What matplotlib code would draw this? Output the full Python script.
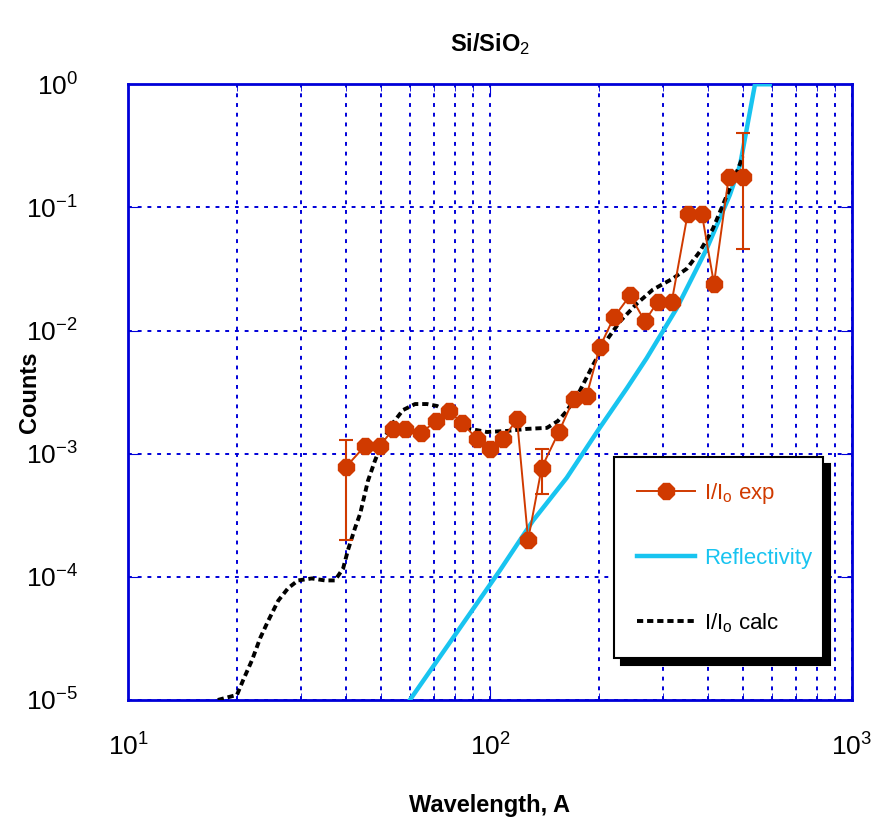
import numpy as np
import matplotlib
matplotlib.use("Agg")
import matplotlib.pyplot as plt
from matplotlib.ticker import NullLocator, LogFormatterSciNotation

plt.rcParams['font.family'] = ['Liberation Sans', 'DejaVu Sans']
plt.rcParams['mathtext.fontset'] = 'custom'
plt.rcParams['mathtext.rm'] = 'Liberation Sans'
plt.rcParams['mathtext.bf'] = 'Liberation Sans:bold'
plt.rcParams['mathtext.default'] = 'rm'
plt.rcParams['axes.unicode_minus'] = False

# measured I/Io (exp)
exp_wl = [40.0, 45.2, 49.7, 54.0, 58.2, 64.4, 71.0, 77.0, 83.7, 92.0, 100.0, 108.6,
          118.8, 127.5, 139.0, 155.0, 170.5, 185.0, 201.0, 220.0, 244.0, 268.0,
          291.0, 318.0, 352.0, 385.0, 416.0, 457.0, 500.0]
exp_val = [7.8e-4, 1.16e-3, 1.16e-3, 1.58e-3, 1.58e-3, 1.47e-3, 1.84e-3, 2.22e-3,
           1.78e-3, 1.32e-3, 1.1e-3, 1.32e-3, 1.9e-3, 2.0e-4, 7.7e-4, 1.5e-3,
           2.8e-3, 2.96e-3, 7.3e-3, 1.28e-2, 1.93e-2, 1.19e-2, 1.72e-2, 1.72e-2,
           8.9e-2, 8.9e-2, 2.4e-2, 0.177, 0.177]

# error bars (only three points carry them)
err_wl = [40.0, 139.0, 500.0]
err_val = [7.8e-4, 7.7e-4, 0.177]
err_lo = [2.0e-4, 4.7e-4, 0.046]
err_hi = [1.3e-3, 1.1e-3, 0.40]

# reflectivity
refl_wl = [60.1, 106.6, 131.5, 163.0, 201.0, 239.0, 271.0, 328.0, 397.0, 460.0, 491.0, 540.0, 593.0]
refl_val = [1e-5, 1.13e-4, 2.86e-4, 6.37e-4, 1.62e-3, 3.4e-3, 5.96e-3, 1.51e-2, 4.6e-2,
            0.126, 0.221, 1.0, 1.0]

# calculated I/Io
calc_wl = [17.7, 20.0, 20.8, 22.0, 23.2, 24.4, 26.0, 27.7, 29.5, 32.2, 35.0, 37.3, 39.3,
           40.5, 42.4, 43.8, 46.0, 48.1, 50.6, 53.9, 57.5, 62.1, 67.0, 71.4, 76.1, 81.1,
           88.1, 98.1, 111.5, 126.6, 143.7, 154.0, 163.0, 177.0, 193.0, 211.0, 229.0,
           255.0, 282.0, 320.0, 350.0, 380.0, 413.0, 452.0, 481.0, 500.0]
calc_val = [1.0e-5, 1.1e-5, 1.45e-5, 2.1e-5, 3.2e-5, 4.4e-5, 6.4e-5, 8.1e-5, 9.35e-5,
            9.7e-5, 9.35e-5, 9.35e-5, 1.17e-4, 1.64e-4, 2.5e-4, 3.26e-4, 6.0e-4, 8.75e-4,
            1.27e-3, 1.77e-3, 2.26e-3, 2.53e-3, 2.53e-3, 2.44e-3, 2.22e-3, 1.84e-3, 1.59e-3,
            1.5e-3, 1.53e-3, 1.59e-3, 1.62e-3, 1.84e-3, 2.22e-3, 3.22e-3, 5.3e-3, 8.5e-3,
            1.19e-2, 1.66e-2, 2.15e-2, 2.64e-2, 3.18e-2, 4.37e-2, 6.7e-2, 0.126, 0.194, 0.26]

red = '#D03A00'
cyan = '#18C4F0'
blue = '#0000D8'

fig = plt.figure(figsize=(8.71, 8.18), dpi=100)
ax = fig.add_axes([0.147, 0.1443, 0.831, 0.7527])

ax.plot(refl_wl, refl_val, color=cyan, lw=3.2, label='Reflectivity', zorder=3)
ax.plot(calc_wl, calc_val, color='black', lw=2.8, ls=(0, (1.6, 1.0)),
        label='I/I$_\\mathrm{o}$ calc', zorder=4)

yerr = [np.array(err_val) - np.array(err_lo), np.array(err_hi) - np.array(err_val)]
ax.errorbar(err_wl, err_val, yerr=yerr, fmt='none', ecolor=red, elinewidth=1.5,
            capsize=5, capthick=1.5, zorder=5)
ax.plot(exp_wl, exp_val, color=red, lw=1.4, marker='8', ms=12, mfc=red, mec=red,
        label='I/I$_\\mathrm{o}$ exp', zorder=6)

ax.set_xscale('log')
ax.set_yscale('log')
ax.set_xlim(10, 1000)
ax.set_ylim(1e-5, 1)
ax.yaxis.set_minor_locator(NullLocator())
ax.xaxis.set_major_formatter(LogFormatterSciNotation())
ax.yaxis.set_major_formatter(LogFormatterSciNotation())

ax.grid(True, which='major', axis='both', color=blue, ls=(0, (2, 3)), lw=1.4)
ax.grid(True, which='minor', axis='x', color=blue, ls=(0, (2, 3)), lw=1.4)
for s in ax.spines.values():
    s.set_color(blue)
    s.set_linewidth(2)
ax.tick_params(which='both', direction='in', top=True, right=True, color=blue,
               labelsize=19, labelcolor='black')
ax.tick_params(axis='x', which='major', pad=24, length=8)
ax.tick_params(axis='y', which='major', pad=36, length=8)
ax.tick_params(axis='x', which='minor', length=5)

ax.set_title('Si/SiO$_\\mathrm{2}$', fontsize=17, fontweight='bold', pad=24)
ax.set_xlabel('Wavelength, A', fontsize=17, fontweight='bold', labelpad=24)
ax.set_ylabel('Counts', fontsize=17, fontweight='bold')
ax.yaxis.set_label_coords(-0.12, 0.5)

handles, labels = ax.get_legend_handles_labels()
order = [2, 0, 1]
leg = ax.legend([handles[i] for i in order], [labels[i] for i in order],
                loc='upper left', bbox_to_anchor=(0.671, 0.052, 0.289, 0.342),
                mode='expand', borderaxespad=0, fontsize=16, labelspacing=1.9,
                handlelength=2.6, handletextpad=0.4, borderpad=1.05,
                frameon=True, fancybox=False, edgecolor='black',
                shadow={'color': 'black', 'alpha': 1, 'ox': 5, 'oy': -5})
leg.get_frame().set_linewidth(1.5)
for txt, c in zip(leg.get_texts(), [red, cyan, 'black']):
    txt.set_color(c)

fig.savefig('out.png', dpi=100)
